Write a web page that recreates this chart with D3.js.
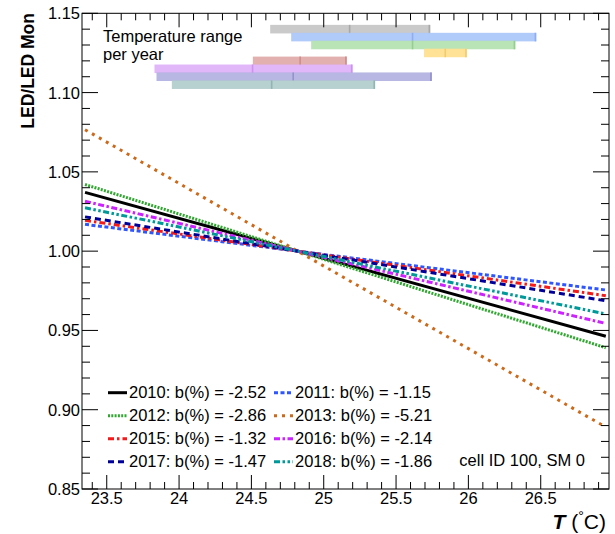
<!DOCTYPE html>
<html>
<head>
<meta charset="utf-8">
<script src="https://cdn.jsdelivr.net/npm/d3@7"></script>
<style>
  html, body { margin: 0; padding: 0; background: #fff; }
  svg { display: block; font-family: "Liberation Sans", Arial, Helvetica, sans-serif; }
</style>
</head>
<body>
<svg id="chart" width="615" height="534"></svg>
<script>
// ---------------- data ----------------
const years   = ["2010", "2011", "2012", "2013", "2015", "2016", "2017", "2018"];
const slopes  = [-2.52, -1.15, -2.86, -5.21, -1.32, -2.14, -1.47, -1.86]; // b(%) per °C
const pivotT  = 24.82;            // temperature where all fits equal 1
const fitRange = [23.35, 26.95];  // T range of drawn fit lines
const lineColors = ["#000000", "#2f55ff", "#30a830", "#cc6a1a", "#f21a1a", "#cc22ff", "#000099", "#009999"];
const lineDashes = [null, "4,2.5", "2,1.3", "3,5", "6,3,2.5,3", "6,2.5,2.5,2.5", "6,4", "6,2.5,2.5,2.5,2.5,2.5"];

// temperature range per year (top boxes)
const tMin  = [24.63, 24.775, 24.913, 25.693, 24.51, 23.83, 23.844, 23.95];
const tMax  = [25.737, 26.47, 26.325, 25.99, 25.16, 25.20, 25.748, 25.356];
const tMean = [25.179, 25.614, 25.614, 25.84, 24.837, 24.508, 24.789, 24.64];
const boxRowY = [1.14, 1.135, 1.13, 1.125, 1.12, 1.115, 1.11, 1.105];
const boxColors = ["#c6c6c6", "#a9c5fa", "#b3e2b0", "#ffdf8c", "#dfaaa8", "#e0b1fa", "#b2b0e0", "#b0cdcb"];
const boxEdge   = ["#a8a8a8", "#8eaef0", "#94cf90", "#f2cb70", "#cc8e8c", "#cc92ee", "#9492cc", "#92b4b2"];

const xTicks = [23.5, 24, 24.5, 25, 25.5, 26, 26.5];
const yTicks = [0.85, 0.90, 0.95, 1.00, 1.05, 1.10, 1.15];
const xDomain = [23.329, 26.972];
const yDomain = [0.85, 1.15];

// ---------------- layout ----------------
const svg = d3.select("#chart");
const L = 82, T = 13.3, R = 609, B = 489;
const x = d3.scaleLinear().domain(xDomain).range([L, R]);
const y = d3.scaleLinear().domain(yDomain).range([B, T]);

svg.append("clipPath").attr("id", "clip")
  .append("rect").attr("x", L).attr("y", T).attr("width", R - L).attr("height", B - T);

// ---------------- temperature boxes ----------------
const gBox = svg.append("g");
years.forEach((yr, i) => {
  const y0 = y(boxRowY[i] + 0.0027), y1 = y(boxRowY[i] - 0.0027);
  gBox.append("rect")
    .attr("x", x(tMin[i])).attr("y", y0)
    .attr("width", x(tMax[i]) - x(tMin[i])).attr("height", y1 - y0)
    .attr("fill", boxColors[i]).attr("fill-opacity", 0.92);
  [tMean[i], tMax[i]].forEach(v => {
    const off = v === tMax[i] ? 1 : 0;
    gBox.append("line")
      .attr("x1", x(v) - off).attr("x2", x(v) - off)
      .attr("y1", y0).attr("y2", y1)
      .attr("stroke", boxEdge[i]).attr("stroke-width", 1.6);
  });
});

svg.append("text").attr("x", 103).attr("y", 41.5)
  .attr("font-size", 16.5).attr("fill", "#000").text("Temperature range");
svg.append("text").attr("x", 103).attr("y", 59.5)
  .attr("font-size", 16.5).attr("fill", "#000").text("per year");

// ---------------- fit lines ----------------
const gLines = svg.append("g").attr("clip-path", "url(#clip)");
const line = d3.line().x(d => x(d[0])).y(d => y(d[1]));
years.forEach((yr, i) => {
  const f = t => 1 + slopes[i] / 100 * (t - pivotT);
  const pts = fitRange.map(t => [t, f(t)]);
  const p = gLines.append("path").datum(pts).attr("d", line)
    .attr("fill", "none").attr("stroke", lineColors[i]).attr("stroke-width", 3);
  if (lineDashes[i]) p.attr("stroke-dasharray", lineDashes[i]);
});

// ---------------- frame & axes ----------------
svg.append("rect").attr("x", L).attr("y", T).attr("width", R - L).attr("height", B - T)
  .attr("fill", "none").attr("stroke", "#000").attr("stroke-width", 1);

const gAx = svg.append("g").attr("stroke", "#000").attr("stroke-width", 1);
const xMinor = d3.range(23.4, 26.95, 0.1).map(v => +v.toFixed(2));
const yMinor = d3.range(0.85, 1.1501, 0.01).map(v => +v.toFixed(3));
xMinor.forEach(v => {
  const major = xTicks.some(t => Math.abs(t - v) < 1e-6);
  const len = major ? 14 : 7;
  gAx.append("line").attr("x1", x(v)).attr("x2", x(v)).attr("y1", B).attr("y2", B - len);
  gAx.append("line").attr("x1", x(v)).attr("x2", x(v)).attr("y1", T).attr("y2", T + len);
});
yMinor.forEach(v => {
  const major = yTicks.some(t => Math.abs(t - v) < 1e-6);
  const len = major ? 16 : 8;
  gAx.append("line").attr("x1", L).attr("x2", L + len).attr("y1", y(v)).attr("y2", y(v));
  gAx.append("line").attr("x1", R).attr("x2", R - len).attr("y1", y(v)).attr("y2", y(v));
});

// tick labels
svg.append("g").selectAll("text").data(xTicks).join("text")
  .attr("x", d => x(d)).attr("y", 504).attr("text-anchor", "middle")
  .attr("font-size", 16.5).text(d => String(d));
svg.append("g").selectAll("text").data(yTicks).join("text")
  .attr("x", 80).attr("y", d => y(d)).attr("dy", "0.36em").attr("text-anchor", "end")
  .attr("font-size", 16.5).text(d => d.toFixed(2));

// axis titles
const xt = svg.append("text").attr("x", 606).attr("y", 529).attr("text-anchor", "end")
  .attr("font-size", 21);
xt.append("tspan").attr("font-weight", "bold").attr("font-style", "italic").text("T");
xt.append("tspan").text(" (");
xt.append("tspan").attr("font-size", 14).attr("dy", -8).text("°");
xt.append("tspan").attr("dy", 8).text("C)");

svg.append("text").attr("transform", "translate(34,13) rotate(-90)")
  .attr("text-anchor", "end").attr("font-size", 17.5).attr("font-weight", "bold")
  .text("LED/LED Mon");

// ---------------- legend ----------------
const legCols = [108, 274];
const legRow0 = 392.7, legDy = 23;
years.forEach((yr, i) => {
  const col = i % 2, row = Math.floor(i / 2);
  const lx = legCols[col], ly = legRow0 + row * legDy;
  const l = svg.append("line").attr("x1", lx).attr("x2", lx + 19).attr("y1", ly).attr("y2", ly)
    .attr("stroke", lineColors[i]).attr("stroke-width", 3);
  if (lineDashes[i]) l.attr("stroke-dasharray", lineDashes[i]);
  svg.append("text").attr("x", lx + 21).attr("y", ly + 5).attr("font-size", 16.5)
    .text(`${yr}: b(%) = ${slopes[i].toFixed(2)}`);
});
svg.append("text").attr("x", 585).attr("y", 466).attr("text-anchor", "end")
  .attr("font-size", 16.5).text("cell ID 100, SM 0");
</script>
</body>
</html>
